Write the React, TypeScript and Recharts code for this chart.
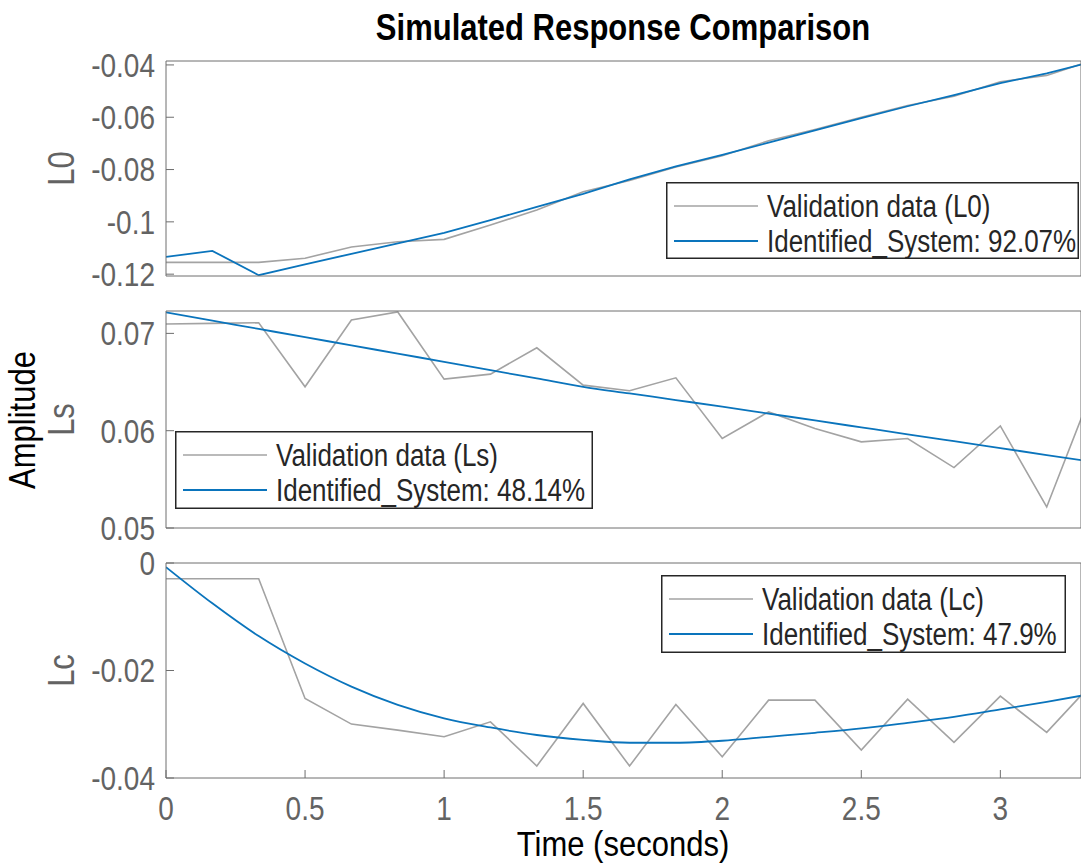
import React from 'react';
import { LineChart, Line, XAxis, YAxis } from 'recharts';

// ---------- data ----------
const timeS = [0, 0.1667, 0.3333, 0.5, 0.6667, 0.8333, 1.0, 1.1667, 1.3333, 1.5, 1.6667, 1.8333, 2.0, 2.1667, 2.3333, 2.5, 2.6667, 2.8333, 3.0, 3.1667, 3.3333];

const l0Validation = [-0.1155, -0.1155, -0.1155, -0.1139, -0.1096, -0.1076, -0.1067, -0.1012, -0.0955, -0.0885, -0.0842, -0.079, -0.0747, -0.069, -0.0647, -0.06, -0.0555, -0.052, -0.0464, -0.044, -0.0382];
const l0Identified = [-0.1134, -0.1111, -0.1204, -0.1163, -0.1122, -0.1082, -0.1042, -0.0993, -0.0943, -0.0893, -0.0838, -0.0788, -0.0744, -0.0697, -0.065, -0.0603, -0.0558, -0.0515, -0.047, -0.0432, -0.0387];

const lsValidation = [0.07096, 0.07103, 0.07109, 0.06451, 0.07137, 0.0722, 0.0653, 0.06581, 0.06852, 0.06468, 0.0641, 0.06543, 0.0592, 0.06193, 0.06023, 0.05885, 0.0592, 0.05621, 0.06049, 0.05216, 0.06437];
const lsIdentified = [0.07216, 0.07131, 0.07046, 0.06961, 0.06877, 0.06792, 0.06708, 0.06622, 0.06537, 0.06451, 0.06383, 0.06315, 0.06247, 0.06176, 0.06105, 0.06034, 0.05963, 0.05892, 0.05821, 0.0575, 0.0568];

const lcValidation = [-0.00292, -0.00292, -0.00292, -0.0252, -0.02997, -0.03109, -0.03233, -0.02955, -0.03777, -0.02613, -0.03777, -0.02631, -0.03604, -0.02552, -0.02552, -0.0348, -0.02533, -0.03337, -0.02477, -0.03151, -0.02225];
const lcIdentified = [-0.00076, -0.0075, -0.0136, -0.0187, -0.023, -0.0264, -0.0289, -0.0306, -0.032, -0.0329, -0.03344, -0.03344, -0.03307, -0.03233, -0.03159, -0.03077, -0.02973, -0.02862, -0.02724, -0.02583, -0.0243];

const timeTicks = [0, 0.5, 1, 1.5, 2, 2.5, 3];
const l0Ticks = [-0.12, -0.1, -0.08, -0.06, -0.04];
const lsTicks = [0.05, 0.06, 0.07];
const lcTicks = [-0.04, -0.02, 0];

const l0Legend = ['Validation data (L0)', 'Identified_System: 92.07%'];
const lsLegend = ['Validation data (Ls)', 'Identified_System: 48.14%'];
const lcLegend = ['Validation data (Lc)', 'Identified_System: 47.9%'];

const titleText = 'Simulated Response Comparison';
const xLabelText = 'Time (seconds)';
const yLabelText = 'Amplitude';

// ---------- style ----------
const FONT = '"Liberation Sans", Arial, Helvetica, sans-serif';
const SY = 1.2;
const GRAY_LINE = '#a3a3a3';
const BLUE = '#0a74bc';
const AXIS = '#6e6e6e';
const TICK_TEXT = '#636363';
const DARK = '#262626';
const PAD = 20;

const fmt = (v: number) => String(v);

const XTick = (p: any) => (
  <text
    transform={`translate(${p.x},${p.y}) scale(1,${SY})`}
    textAnchor="middle"
    dy="0.71em"
    fill={TICK_TEXT}
    fontSize={28}
    fontFamily={FONT}
  >
    {fmt(p.payload.value)}
  </text>
);

const YTick = (p: any) => (
  <text
    transform={`translate(${p.x},${p.y}) scale(1,${SY})`}
    textAnchor="end"
    dy="0.355em"
    fill={TICK_TEXT}
    fontSize={28}
    fontFamily={FONT}
  >
    {fmt(p.payload.value)}
  </text>
);

type PanelProps = {
  top: number;
  plotH: number;
  yDomain: [number, number];
  yTicks: number[];
  valid: number[];
  ident: number[];
  showX: boolean;
  curve: 'linear' | 'monotone';
};

function Panel({ top, plotH, yDomain, yTicks, valid, ident, showX, curve }: PanelProps) {
  const data = timeS.map((t, i) => ({ t, v: valid[i], m: ident[i] }));
  const bottomH = showX ? 60 : 1;
  const bottomM = showX ? 0 : PAD;
  return (
    <div style={{ position: 'absolute', left: 0, top: top - PAD }}>
      <LineChart
        width={1100}
        height={plotH + PAD + bottomH + bottomM}
        data={data}
        margin={{ top: PAD, right: 19, bottom: bottomM, left: 106 }}
      >
        <XAxis
          xAxisId="b"
          dataKey="t"
          type="number"
          domain={[0, 3.29]}
          ticks={timeTicks}
          allowDataOverflow
          height={bottomH}
          tickSize={-8}
          tickMargin={26}
          stroke={AXIS}
          tick={showX ? XTick : false}
          interval={0}
        />
        <XAxis
          xAxisId="t"
          dataKey="t"
          type="number"
          orientation="top"
          mirror
          domain={[0, 3.29]}
          ticks={timeTicks}
          allowDataOverflow
          height={1}
          tickSize={8}
          stroke={AXIS}
          tick={false}
          interval={0}
        />
        <YAxis
          yAxisId="l"
          type="number"
          domain={yDomain}
          ticks={yTicks}
          allowDataOverflow
          width={60}
          tickSize={-8}
          tickMargin={19}
          stroke={AXIS}
          tick={YTick}
          interval={0}
        />
        <YAxis
          yAxisId="r"
          type="number"
          orientation="right"
          mirror
          domain={yDomain}
          ticks={yTicks}
          allowDataOverflow
          width={1}
          tickSize={8}
          stroke={AXIS}
          tick={false}
          interval={0}
        />
        <Line
          xAxisId="b"
          yAxisId="l"
          type="linear"
          dataKey="v"
          stroke={GRAY_LINE}
          strokeWidth={1.6}
          dot={false}
          isAnimationActive={false}
        />
        <Line
          xAxisId="b"
          yAxisId="l"
          type={curve}
          dataKey="m"
          stroke={BLUE}
          strokeWidth={1.8}
          dot={false}
          isAnimationActive={false}
        />
      </LineChart>
    </div>
  );
}

function LegendBox({ left, top, width, height, labels }: { left: number; top: number; width: number; height: number; labels: string[] }) {
  const rows = [24, 59];
  const colors = [GRAY_LINE, BLUE];
  return (
    <svg style={{ position: 'absolute', left, top }} width={width} height={height}>
      <rect x={0.75} y={0.75} width={width - 1.5} height={height - 1.5} fill="#fff" stroke={DARK} strokeWidth={1.5} />
      {labels.map((lab, i) => (
        <g key={lab}>
          <line x1={8} x2={92} y1={rows[i]} y2={rows[i]} stroke={colors[i]} strokeWidth={i === 0 ? 1.6 : 1.8} />
          <text
            transform={`translate(101,${rows[i]}) scale(1,${SY})`}
            dy="0.355em"
            fontSize={26}
            fontFamily={FONT}
            fill={DARK}
          >
            {lab}
          </text>
        </g>
      ))}
    </svg>
  );
}

export default function App() {
  return (
    <div
      style={{
        position: 'absolute',
        left: 0,
        top: 0,
        width: 1081,
        height: 864,
        overflow: 'hidden',
        background: '#fff',
      }}
    >
      <Panel top={61} plotH={215} yDomain={[-0.1207, -0.0385]} yTicks={l0Ticks} valid={l0Validation} ident={l0Identified} showX={false} curve="linear" />
      <Panel top={311} plotH={217} yDomain={[0.05, 0.0723]} yTicks={lsTicks} valid={lsValidation} ident={lsIdentified} showX={false} curve="monotone" />
      <Panel top={563} plotH={215} yDomain={[-0.04, 0]} yTicks={lcTicks} valid={lcValidation} ident={lcIdentified} showX={true} curve="monotone" />

      <LegendBox left={666} top={182} width={413} height={77} labels={l0Legend} />
      <LegendBox left={175} top={431} width={418} height={78} labels={lsLegend} />
      <LegendBox left={661} top={575} width={405} height={78} labels={lcLegend} />

      <svg style={{ position: 'absolute', left: 0, top: 0, pointerEvents: 'none' }} width={1081} height={864}>
        <text
          transform={`translate(623,40) scale(1,${SY})`}
          textAnchor="middle"
          fontSize={31}
          fontWeight="bold"
          fontFamily={FONT}
          fill="#000"
        >
          {titleText}
        </text>
        <text
          transform={`translate(623,856) scale(1,1.12)`}
          textAnchor="middle"
          fontSize={31}
          fontFamily={FONT}
          fill="#000"
        >
          {xLabelText}
        </text>
        <text
          transform={`translate(22,420) rotate(-90) scale(1,${SY})`}
          textAnchor="middle"
          dy="0.355em"
          fontSize={31}
          fontFamily={FONT}
          fill="#000"
        >
          {yLabelText}
        </text>
        <text transform={`translate(61,168.5) rotate(-90) scale(1,${SY})`} textAnchor="middle" dy="0.355em" fontSize={31} fontFamily={FONT} fill={TICK_TEXT}>L0</text>
        <text transform={`translate(61,419.5) rotate(-90) scale(1,${SY})`} textAnchor="middle" dy="0.355em" fontSize={31} fontFamily={FONT} fill={TICK_TEXT}>Ls</text>
        <text transform={`translate(61,670.5) rotate(-90) scale(1,${SY})`} textAnchor="middle" dy="0.355em" fontSize={31} fontFamily={FONT} fill={TICK_TEXT}>Lc</text>
      </svg>
    </div>
  );
}
